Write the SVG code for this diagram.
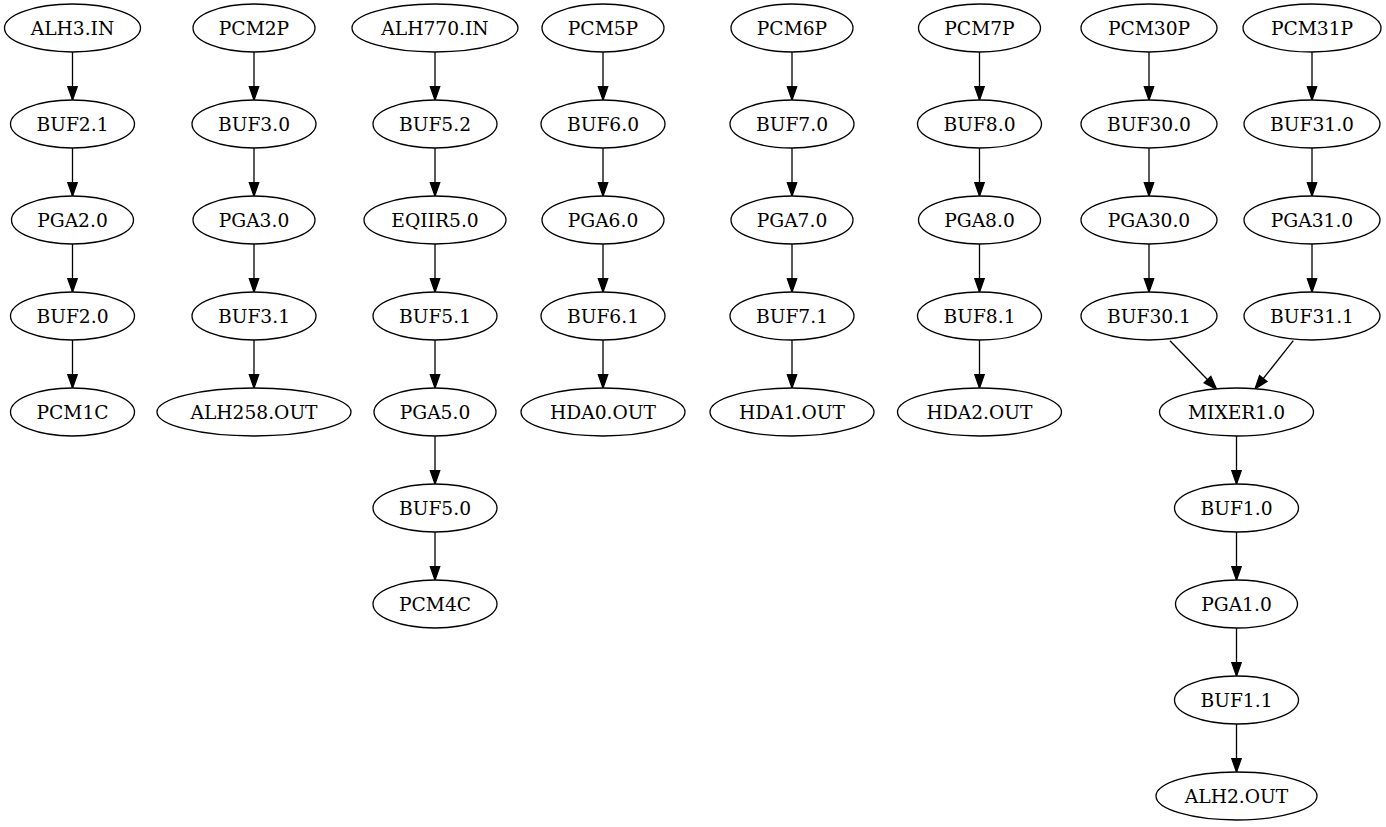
<svg xmlns="http://www.w3.org/2000/svg" width="1386" height="827" viewBox="0 0 1386 827">
<style>
.n ellipse{fill:#fff;stroke:#000;stroke-width:1.3}
.n text{font-family:"DejaVu Serif","Liberation Serif",serif;font-size:18.67px;text-anchor:middle;fill:#000}
.e line{stroke:#000;stroke-width:1.3}
</style>
<defs>
<marker id="ah" markerUnits="userSpaceOnUse" markerWidth="16" markerHeight="12" refX="13.3" refY="0" viewBox="0 -6 16 12" orient="auto" overflow="visible">
<path d="M0,-4.67 L13.3,0 L0,4.67 Z" fill="#000" stroke="#000" stroke-width="1.3"/>
</marker>
</defs>
<rect width="1386" height="827" fill="#fff"/>
<g id="connectors" class="e">
<line x1="72.5" y1="52" x2="72.5" y2="100" marker-end="url(#ah)"/>
<line x1="72.5" y1="148" x2="72.5" y2="196" marker-end="url(#ah)"/>
<line x1="72.5" y1="244" x2="72.5" y2="292" marker-end="url(#ah)"/>
<line x1="72.5" y1="340" x2="72.5" y2="388" marker-end="url(#ah)"/>
<line x1="254" y1="52" x2="254" y2="100" marker-end="url(#ah)"/>
<line x1="254" y1="148" x2="254" y2="196" marker-end="url(#ah)"/>
<line x1="254" y1="244" x2="254" y2="292" marker-end="url(#ah)"/>
<line x1="254" y1="340" x2="254" y2="388" marker-end="url(#ah)"/>
<line x1="435" y1="52" x2="435" y2="100" marker-end="url(#ah)"/>
<line x1="435" y1="148" x2="435" y2="196" marker-end="url(#ah)"/>
<line x1="435" y1="244" x2="435" y2="292" marker-end="url(#ah)"/>
<line x1="435" y1="340" x2="435" y2="388" marker-end="url(#ah)"/>
<line x1="435" y1="436" x2="435" y2="484" marker-end="url(#ah)"/>
<line x1="435" y1="532" x2="435" y2="580" marker-end="url(#ah)"/>
<line x1="603" y1="52" x2="603" y2="100" marker-end="url(#ah)"/>
<line x1="603" y1="148" x2="603" y2="196" marker-end="url(#ah)"/>
<line x1="603" y1="244" x2="603" y2="292" marker-end="url(#ah)"/>
<line x1="603" y1="340" x2="603" y2="388" marker-end="url(#ah)"/>
<line x1="792" y1="52" x2="792" y2="100" marker-end="url(#ah)"/>
<line x1="792" y1="148" x2="792" y2="196" marker-end="url(#ah)"/>
<line x1="792" y1="244" x2="792" y2="292" marker-end="url(#ah)"/>
<line x1="792" y1="340" x2="792" y2="388" marker-end="url(#ah)"/>
<line x1="979.5" y1="52" x2="979.5" y2="100" marker-end="url(#ah)"/>
<line x1="979.5" y1="148" x2="979.5" y2="196" marker-end="url(#ah)"/>
<line x1="979.5" y1="244" x2="979.5" y2="292" marker-end="url(#ah)"/>
<line x1="979.5" y1="340" x2="979.5" y2="388" marker-end="url(#ah)"/>
<line x1="1149" y1="52" x2="1149" y2="100" marker-end="url(#ah)"/>
<line x1="1149" y1="148" x2="1149" y2="196" marker-end="url(#ah)"/>
<line x1="1149" y1="244" x2="1149" y2="292" marker-end="url(#ah)"/>
<line x1="1312" y1="52" x2="1312" y2="100" marker-end="url(#ah)"/>
<line x1="1312" y1="148" x2="1312" y2="196" marker-end="url(#ah)"/>
<line x1="1312" y1="244" x2="1312" y2="292" marker-end="url(#ah)"/>
<line x1="1170" y1="340.7" x2="1216.7" y2="389.3" marker-end="url(#ah)"/>
<line x1="1293.3" y1="340.7" x2="1255" y2="389" marker-end="url(#ah)"/>
<line x1="1236.5" y1="436" x2="1236.5" y2="484" marker-end="url(#ah)"/>
<line x1="1236.5" y1="532" x2="1236.5" y2="580" marker-end="url(#ah)"/>
<line x1="1236.5" y1="628" x2="1236.5" y2="676" marker-end="url(#ah)"/>
<line x1="1236.5" y1="724" x2="1236.5" y2="772" marker-end="url(#ah)"/>
</g>
<g id="ALH3.IN" class="n"><ellipse cx="72.5" cy="28" rx="68" ry="24"/><text x="72.5" y="34.5">ALH3.IN</text></g>
<g id="BUF2.1" class="n"><ellipse cx="72.5" cy="124" rx="62" ry="24"/><text x="72.5" y="130.5">BUF2.1</text></g>
<g id="PGA2.0" class="n"><ellipse cx="72.5" cy="220" rx="61" ry="24"/><text x="72.5" y="226.5">PGA2.0</text></g>
<g id="BUF2.0" class="n"><ellipse cx="72.5" cy="316" rx="62" ry="24"/><text x="72.5" y="322.5">BUF2.0</text></g>
<g id="PCM1C" class="n"><ellipse cx="72.5" cy="412" rx="62" ry="24"/><text x="72.5" y="418.5">PCM1C</text></g>
<g id="PCM2P" class="n"><ellipse cx="254" cy="28" rx="61" ry="24"/><text x="254" y="34.5">PCM2P</text></g>
<g id="BUF3.0" class="n"><ellipse cx="254" cy="124" rx="62" ry="24"/><text x="254" y="130.5">BUF3.0</text></g>
<g id="PGA3.0" class="n"><ellipse cx="254" cy="220" rx="61" ry="24"/><text x="254" y="226.5">PGA3.0</text></g>
<g id="BUF3.1" class="n"><ellipse cx="254" cy="316" rx="62" ry="24"/><text x="254" y="322.5">BUF3.1</text></g>
<g id="ALH258.OUT" class="n"><ellipse cx="254" cy="412" rx="97" ry="24"/><text x="254" y="418.5">ALH258.OUT</text></g>
<g id="ALH770.IN" class="n"><ellipse cx="435" cy="28" rx="83" ry="24"/><text x="435" y="34.5">ALH770.IN</text></g>
<g id="BUF5.2" class="n"><ellipse cx="435" cy="124" rx="62" ry="24"/><text x="435" y="130.5">BUF5.2</text></g>
<g id="EQIIR5.0" class="n"><ellipse cx="435" cy="220" rx="71" ry="24"/><text x="435" y="226.5">EQIIR5.0</text></g>
<g id="BUF5.1" class="n"><ellipse cx="435" cy="316" rx="62" ry="24"/><text x="435" y="322.5">BUF5.1</text></g>
<g id="PGA5.0" class="n"><ellipse cx="435" cy="412" rx="61" ry="24"/><text x="435" y="418.5">PGA5.0</text></g>
<g id="BUF5.0" class="n"><ellipse cx="435" cy="508" rx="62" ry="24"/><text x="435" y="514.5">BUF5.0</text></g>
<g id="PCM4C" class="n"><ellipse cx="435" cy="604" rx="62" ry="24"/><text x="435" y="610.5">PCM4C</text></g>
<g id="PCM5P" class="n"><ellipse cx="603" cy="28" rx="61" ry="24"/><text x="603" y="34.5">PCM5P</text></g>
<g id="BUF6.0" class="n"><ellipse cx="603" cy="124" rx="62" ry="24"/><text x="603" y="130.5">BUF6.0</text></g>
<g id="PGA6.0" class="n"><ellipse cx="603" cy="220" rx="61" ry="24"/><text x="603" y="226.5">PGA6.0</text></g>
<g id="BUF6.1" class="n"><ellipse cx="603" cy="316" rx="62" ry="24"/><text x="603" y="322.5">BUF6.1</text></g>
<g id="HDA0.OUT" class="n"><ellipse cx="603" cy="412" rx="82" ry="24"/><text x="603" y="418.5">HDA0.OUT</text></g>
<g id="PCM6P" class="n"><ellipse cx="792" cy="28" rx="61" ry="24"/><text x="792" y="34.5">PCM6P</text></g>
<g id="BUF7.0" class="n"><ellipse cx="792" cy="124" rx="62" ry="24"/><text x="792" y="130.5">BUF7.0</text></g>
<g id="PGA7.0" class="n"><ellipse cx="792" cy="220" rx="61" ry="24"/><text x="792" y="226.5">PGA7.0</text></g>
<g id="BUF7.1" class="n"><ellipse cx="792" cy="316" rx="62" ry="24"/><text x="792" y="322.5">BUF7.1</text></g>
<g id="HDA1.OUT" class="n"><ellipse cx="792" cy="412" rx="82" ry="24"/><text x="792" y="418.5">HDA1.OUT</text></g>
<g id="PCM7P" class="n"><ellipse cx="979.5" cy="28" rx="61" ry="24"/><text x="979.5" y="34.5">PCM7P</text></g>
<g id="BUF8.0" class="n"><ellipse cx="979.5" cy="124" rx="62" ry="24"/><text x="979.5" y="130.5">BUF8.0</text></g>
<g id="PGA8.0" class="n"><ellipse cx="979.5" cy="220" rx="61" ry="24"/><text x="979.5" y="226.5">PGA8.0</text></g>
<g id="BUF8.1" class="n"><ellipse cx="979.5" cy="316" rx="62" ry="24"/><text x="979.5" y="322.5">BUF8.1</text></g>
<g id="HDA2.OUT" class="n"><ellipse cx="979.5" cy="412" rx="82" ry="24"/><text x="979.5" y="418.5">HDA2.OUT</text></g>
<g id="PCM30P" class="n"><ellipse cx="1149" cy="28" rx="68" ry="24"/><text x="1149" y="34.5">PCM30P</text></g>
<g id="BUF30.0" class="n"><ellipse cx="1149" cy="124" rx="68" ry="24"/><text x="1149" y="130.5">BUF30.0</text></g>
<g id="PGA30.0" class="n"><ellipse cx="1149" cy="220" rx="68" ry="24"/><text x="1149" y="226.5">PGA30.0</text></g>
<g id="BUF30.1" class="n"><ellipse cx="1149" cy="316" rx="68" ry="24"/><text x="1149" y="322.5">BUF30.1</text></g>
<g id="PCM31P" class="n"><ellipse cx="1312" cy="28" rx="69" ry="24"/><text x="1312" y="34.5">PCM31P</text></g>
<g id="BUF31.0" class="n"><ellipse cx="1312" cy="124" rx="68" ry="24"/><text x="1312" y="130.5">BUF31.0</text></g>
<g id="PGA31.0" class="n"><ellipse cx="1312" cy="220" rx="68" ry="24"/><text x="1312" y="226.5">PGA31.0</text></g>
<g id="BUF31.1" class="n"><ellipse cx="1312" cy="316" rx="68" ry="24"/><text x="1312" y="322.5">BUF31.1</text></g>
<g id="MIXER1.0" class="n"><ellipse cx="1236.5" cy="412" rx="77" ry="24"/><text x="1236.5" y="418.5">MIXER1.0</text></g>
<g id="BUF1.0" class="n"><ellipse cx="1236.5" cy="508" rx="62" ry="24"/><text x="1236.5" y="514.5">BUF1.0</text></g>
<g id="PGA1.0" class="n"><ellipse cx="1236.5" cy="604" rx="61" ry="24"/><text x="1236.5" y="610.5">PGA1.0</text></g>
<g id="BUF1.1" class="n"><ellipse cx="1236.5" cy="700" rx="62" ry="24"/><text x="1236.5" y="706.5">BUF1.1</text></g>
<g id="ALH2.OUT" class="n"><ellipse cx="1236.5" cy="796" rx="80.5" ry="24"/><text x="1236.5" y="802.5">ALH2.OUT</text></g>
</svg>
